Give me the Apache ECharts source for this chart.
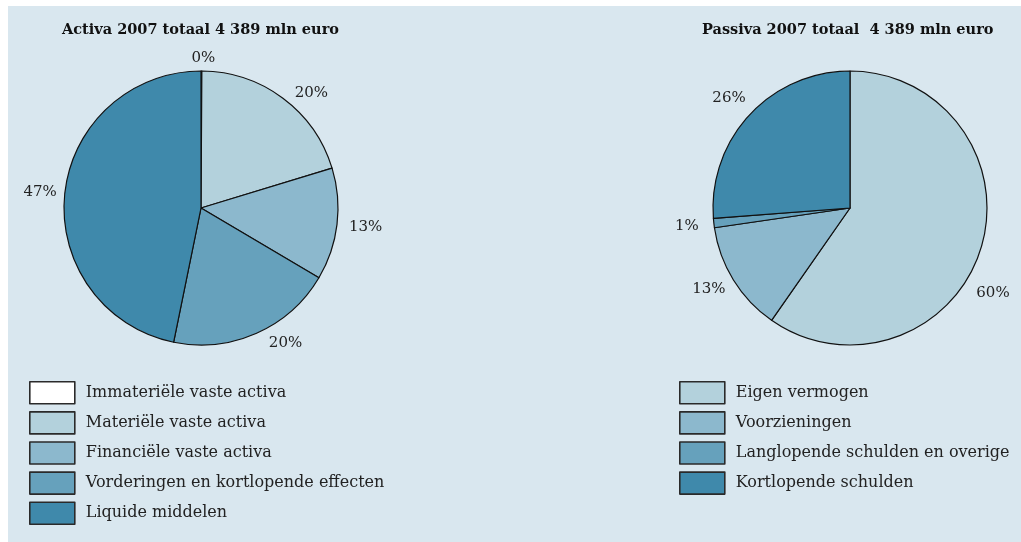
<!DOCTYPE html>
<html>
<head>
<meta charset="utf-8">
<script src="https://cdn.jsdelivr.net/npm/echarts@6/dist/echarts.min.js"></script>
<style>
html,body{margin:0;padding:0;background:#ffffff;}
#chart{width:1021px;height:542px;}
</style>
</head>
<body>
<div id="chart"></div>
<script>
// Data (percent shares)
const activaTitle = 'Activa 2007 totaal 4 389 mln euro';
const passivaTitle = 'Passiva 2007 totaal  4 389 mln euro';
const activaCategories = ['Immateriële vaste activa','Materiële vaste activa','Financiële vaste activa','Vorderingen en kortlopende effecten','Liquide middelen'];
const activaValues = [0.1, 20.2, 13.2, 19.7, 46.8];
const passivaCategories = ['Eigen vermogen','Voorzieningen','Langlopende schulden en overige','Kortlopende schulden'];
const passivaValues = [59.7, 13.0, 1.1, 26.2];

const activaColors = ['#ffffff','#b3d1dc','#8cb8cd','#66a1bc','#3f89ab'];
const passivaColors = ['#b3d1dc','#8cb8cd','#66a1bc','#3f89ab'];

const FONT = '"DejaVu Serif", "Liberation Serif", serif';

function mk(names, values){ return names.map((n,i)=>({name:n, value:values[i]})); }

const chart = echarts.init(document.getElementById('chart'), null, {renderer:'canvas'});
const labelCfg = {
  show:true, position:'outside', color:'#222', fontFamily:FONT, fontSize:15,
  formatter: p => Math.round(p.percent) + '%', distanceToLabelLine:3
};
const lineCfg = {show:false, length:8, length2:0};
// small label nudges to follow the reference placement
const activaNudge = [{dx:-13,dy:-5},{dx:4,dy:1},{dx:1,dy:2},{dx:6,dy:3},{dx:3,dy:-1}];
const passivaNudge = [{dx:-15,dy:42},{dx:2,dy:5},{dx:-4,dy:2},{dx:5,dy:-11}];
const legendText = {fontFamily:FONT, fontSize:16, color:'#222', lineHeight:18, padding:[0,0,0,6]};
const legendItem = {borderColor:'#2a2a2a', borderWidth:1.6};
chart.setOption({
  backgroundColor:'#ffffff',
  animation:false,
  graphic:[{type:'rect', z:-10, shape:{x:8,y:6,width:1013,height:536}, style:{fill:'#d9e7ef'}}],
  title:[
    {text:activaTitle, left:62, top:23, padding:0, textStyle:{fontFamily:FONT, fontWeight:'bold', fontSize:14.5, color:'#111'}},
    {text:passivaTitle, left:702, top:23, padding:0, textStyle:{fontFamily:FONT, fontWeight:'bold', fontSize:14.5, color:'#111'}}
  ],
  legend:[
    {data:activaCategories, orient:'vertical', left:24, top:376, height:200, itemWidth:45, itemHeight:22, itemGap:6.5, icon:'rect',
     itemStyle:legendItem, textStyle:legendText, selectedMode:false},
    {data:passivaCategories, orient:'vertical', left:674, top:376, height:200, itemWidth:45, itemHeight:22, itemGap:6.5, icon:'rect',
     itemStyle:legendItem, textStyle:legendText, selectedMode:false}
  ],
  series:[
    {type:'pie', center:[201,208], radius:[0,137], startAngle:90, clockwise:true, avoidLabelOverlap:false,
     color:activaColors, itemStyle:{borderColor:'#111', borderWidth:1.2},
     label:labelCfg, labelLine:lineCfg, emphasis:{disabled:true},
     labelLayout: p => activaNudge[p.dataIndex],
     data:mk(activaCategories, activaValues)},
    {type:'pie', center:[850,208], radius:[0,137], startAngle:90, clockwise:true, avoidLabelOverlap:false,
     color:passivaColors, itemStyle:{borderColor:'#111', borderWidth:1.2},
     label:labelCfg, labelLine:lineCfg, emphasis:{disabled:true},
     labelLayout: p => passivaNudge[p.dataIndex],
     data:mk(passivaCategories, passivaValues)}
  ]
});
</script>
</body>
</html>
